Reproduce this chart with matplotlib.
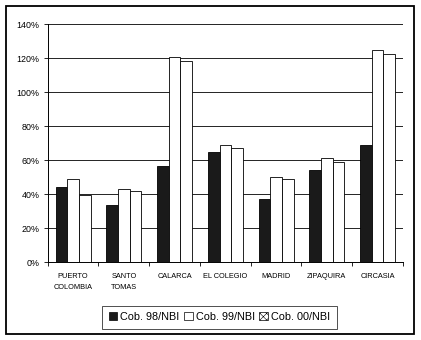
import matplotlib
matplotlib.use("Agg")
import matplotlib.pyplot as plt
from matplotlib.patches import Rectangle, Patch
import numpy as np

categories = ["PUERTO\nCOLOMBIA", "SANTO\nTOMAS", "CALARCA", "EL COLEGIO", "MADRID", "ZIPAQUIRA", "CIRCASIA"]
cob98 = [44.5, 33.5, 56.8, 64.7, 37.2, 54.3, 69.0]
cob99 = [48.8, 43.0, 120.6, 69.0, 50.4, 61.2, 124.9]
cob00 = [39.5, 42.0, 118.2, 67.2, 48.8, 58.8, 122.5]
series_names = ["Cob. 98/NBI", "Cob. 99/NBI", "Cob. 00/NBI"]
yticks = [0, 20, 40, 60, 80, 100, 120, 140]

plt.rcParams['font.family'] = ['Liberation Sans', 'DejaVu Sans']
plt.rcParams['hatch.linewidth'] = 0.4
fig = plt.figure(figsize=(4.21, 3.40), dpi=100)
fig.patches.append(Rectangle((5.7/421, 1-334/340), (414-5.7)/421, (334-5.7)/340,
                             transform=fig.transFigure, fill=False, edgecolor='black', lw=1.3))
ax = fig.add_axes([47.7/421, 1-262.3/340, (403-47.7)/421, (262.3-24.3)/340])

x = np.arange(len(categories))
w = 0.23
ax.bar(x - w, cob98, w, color='#1a1a1a', edgecolor='black', lw=0.6, zorder=3)
ax.bar(x, cob99, w, color='white', edgecolor='black', lw=0.6, zorder=3)
ax.bar(x + w, cob00, w, color='white', edgecolor='black', lw=0.6, zorder=3)

ax.set_xlim(-0.5, len(categories) - 0.5)
ax.set_ylim(0, 140)
ax.set_yticks(yticks)
ax.set_yticklabels([f"{v}%" for v in yticks], fontsize=6.4)
ax.yaxis.grid(True, color='black', lw=0.6, zorder=0)
ax.set_axisbelow(True)
ax.set_xticks(x)
ax.set_xticklabels(categories, fontsize=5.3, linespacing=1.8, va='top')
ax.tick_params(axis='x', length=0, pad=8)
ax.set_xticks(np.arange(-0.5, len(categories)), minor=True)
ax.tick_params(axis='x', which='minor', length=3, width=0.6, direction='out')
ax.tick_params(axis='y', length=3, width=0.6, pad=3)
for s in ['top', 'right']:
    ax.spines[s].set_visible(False)
for s in ['left', 'bottom']:
    ax.spines[s].set_linewidth(0.7)

handles = [Patch(facecolor='#1a1a1a', edgecolor='black', lw=0.5),
           Patch(facecolor='white', edgecolor='black', lw=0.5),
           Patch(facecolor='white', edgecolor='black', hatch='xxxxx', lw=0.5)]
leg = fig.legend(handles, series_names, loc='center', bbox_to_anchor=(219.5/421, 1-317/340),
                 ncol=3, fontsize=7.8, frameon=True, fancybox=False, edgecolor='black',
                 handlelength=0.8, handleheight=0.8, handletextpad=0.3, columnspacing=0.4,
                 borderpad=0.6, borderaxespad=0)
leg.get_frame().set_linewidth(0.6)

fig.savefig("out.png", dpi=100)
